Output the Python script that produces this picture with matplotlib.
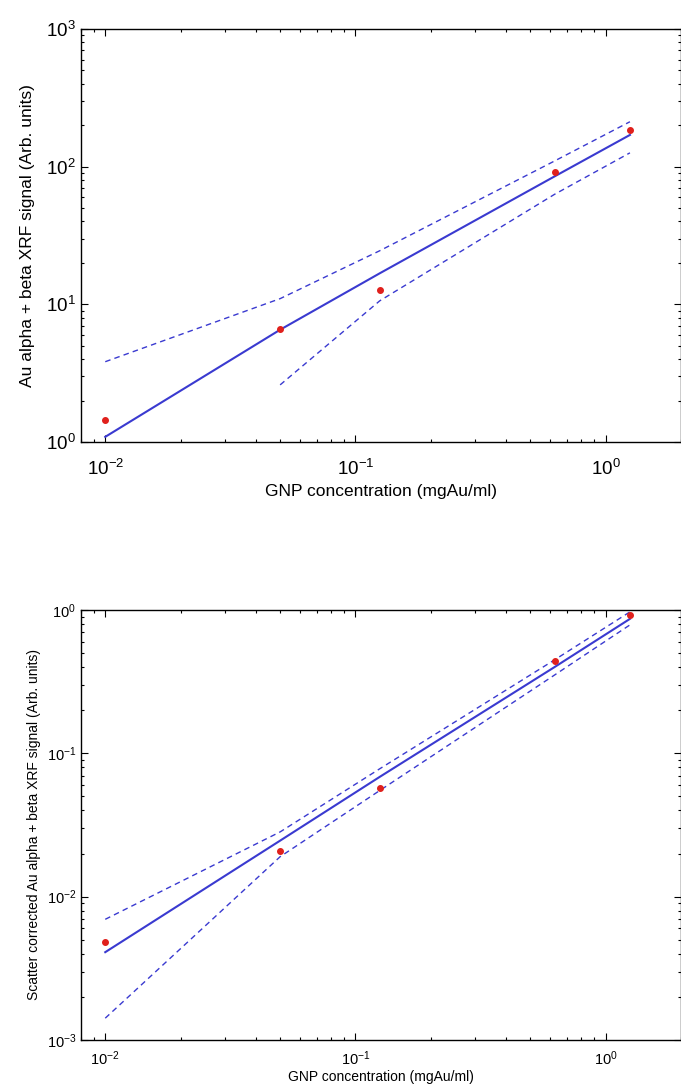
import numpy as np
import matplotlib
matplotlib.use('Agg')
import matplotlib.pyplot as plt

plt.rcParams['font.family'] = ['Liberation Sans', 'DejaVu Sans']

conc = [0.01, 0.05, 0.125, 0.625, 1.25]

# raw signal
raw_pts = [1.44, 6.58, 12.8, 91.0, 184.0]
raw_fit = [1.09, 6.54, 16.8, 85.0, 170.0]
raw_up = [3.83, 11.0, 24.5, 110.0, 212.0]
raw_lo = [np.nan, 2.6, 10.6, 63.0, 126.0]

# scatter corrected signal
sc_pts = [0.0048, 0.0209, 0.057, 0.44, 0.92]
sc_fit = [0.0041, 0.0246, 0.0685, 0.40, 0.867]
sc_up = [0.00695, 0.0283, 0.078, 0.449, 0.97]
sc_lo = [0.00142, 0.019, 0.055, 0.352, 0.787]

line_col = '#3a3ad0'
pt_col = '#e0201c'


def setup(ax, ylim, tick_size, pad):
    ax.set_xscale('log')
    ax.set_yscale('log')
    ax.set_xlim(0.008, 2)
    ax.set_ylim(*ylim)
    ax.tick_params(which='both', direction='in', top=True, right=True,
                   labelsize=tick_size, width=0.8)
    ax.tick_params(axis='x', which='major', pad=pad)
    ax.tick_params(which='major', length=5)
    ax.tick_params(which='minor', length=2.5)
    for s in ax.spines.values():
        s.set_linewidth(1.0)


def draw(ax, pts, fit, up, lo):
    ax.plot(conc, fit, '-', color=line_col, lw=1.5)
    ax.plot(conc, up, '--', color=line_col, lw=1.0, dashes=(4, 3))
    ax.plot(conc, lo, '--', color=line_col, lw=1.0, dashes=(4, 3))
    ax.plot(conc, pts, 'o', color=pt_col, ms=4, mec=pt_col)


fig = plt.figure(figsize=(6.81, 10.90), dpi=100)

ax1 = fig.add_axes([81/681, 1 - 442/1090, 600/681, 413/1090])
draw(ax1, raw_pts, raw_fit, raw_up, raw_lo)
setup(ax1, (1, 1000), 13.5, 12)
ax1.set_xlabel('GNP concentration (mgAu/ml)', fontsize=12.5, labelpad=4)
ax1.set_ylabel('Au alpha + beta XRF signal (Arb. units)', fontsize=12.5, labelpad=8)

ax2 = fig.add_axes([81/681, 1 - 1040/1090, 600/681, 430/1090])
draw(ax2, sc_pts, sc_fit, sc_up, sc_lo)
setup(ax2, (0.001, 1), 10.5, 7)
ax2.set_xlabel('GNP concentration (mgAu/ml)', fontsize=10, labelpad=1)
ax2.set_ylabel('Scatter corrected Au alpha + beta XRF signal (Arb. units)', fontsize=10, labelpad=4)

fig.savefig('out.png', dpi=100)
